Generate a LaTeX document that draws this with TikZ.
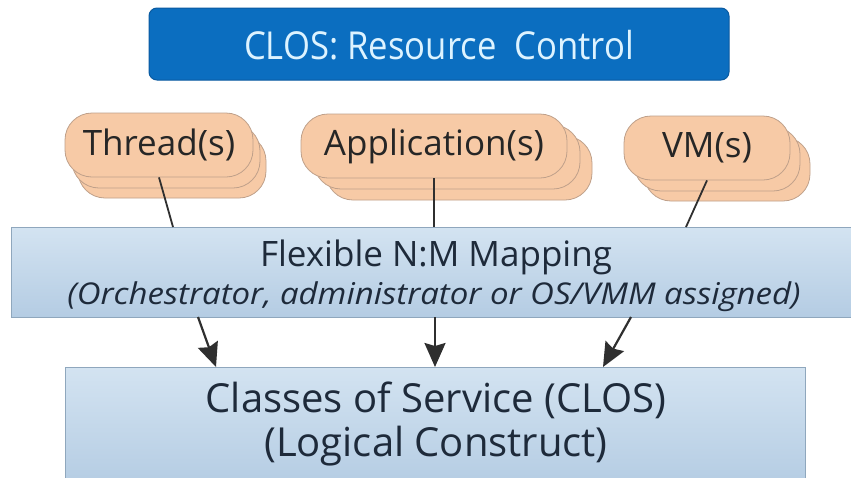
\documentclass[tikz,border=0pt]{standalone}
\usepackage{fontspec}
\setmainfont{Open Sans}
\newfontfamily\narrowsans{Open Sans}[FakeStretch=0.9]
\newfontfamily\widesans{Open Sans}[FakeStretch=1.1]
\usetikzlibrary{arrows.meta,calc}
\definecolor{closblue}{HTML}{0B6EC0}
\definecolor{closedge}{HTML}{0A5AA0}
\definecolor{clostext}{HTML}{DDF3FF}
\definecolor{peach}{HTML}{F7CAA6}
\definecolor{peachedge}{HTML}{BFA08A}
\definecolor{paletop}{HTML}{D3E3F1}
\definecolor{palebot}{HTML}{B4CCE3}
\definecolor{paleedge}{HTML}{8FA7BD}
\definecolor{ink}{HTML}{1E2A3A}
\definecolor{wire}{HTML}{2F2F2F}
\begin{document}
\begin{tikzpicture}[x=1pt,y=-1pt,
  topbox/.style={draw=closedge,fill=closblue,rounded corners=8pt,line width=1pt,
    minimum width=580pt,minimum height=72pt},
  toptext/.style={text=clostext,font=\narrowsans\fontsize{38.5}{44}\selectfont},
  bubble/.style={draw=peachedge,fill=peach,rounded corners=27pt,line width=0.8pt,
    minimum height=64pt,text=black!85,font=\fontsize{35}{40}\selectfont},
  layerbox/.style={draw=paleedge,top color=paletop,bottom color=palebot,line width=0.8pt},
  layertext/.style={text=ink,anchor=base,inner sep=0pt},
  link/.style={draw=wire,line width=1.8pt},
  flow/.style={draw=wire,line width=2.2pt,-{Stealth[length=24pt,width=21pt,inset=3pt]}}]
\useasboundingbox (0,0) rectangle (851,477);
\fill[white] (0,0) rectangle (851,477);

% heading
\node[topbox] (clos) at (439,44) {};
\node[toptext] (clostxt) at (439,45) {CLOS: Resource\ \ Control};

% stacked work items, back layers first
\node[bubble,minimum width=188pt] (thrC) at (172,166) {};
\node[bubble,minimum width=188pt] (thrB) at (166,156) {};
\node[bubble,minimum width=188pt] (thr)  at (159,145) {Thread(s)};
\node[bubble,minimum width=266pt] (appC) at (459,168) {};
\node[bubble,minimum width=266pt] (appB) at (447,157) {};
\node[bubble,minimum width=266pt] (app)  at (434,146) {Application(s)};
\node[bubble,minimum width=166pt] (vmC)  at (727,169) {};
\node[bubble,minimum width=166pt] (vmB)  at (717,159) {};
\node[bubble,minimum width=166pt] (vm)   at (707,148) {VM(s)};

% mapping layer, running off the right edge
\node[layerbox,minimum width=860pt,minimum height=90pt,anchor=north west] (map) at (11,227) {};
\node[layertext,font=\fontsize{35}{40}\selectfont] (maptxt) at (436,266) {Flexible N:M Mapping};
\node[layertext,font=\widesans\itshape\fontsize{30}{34}\selectfont] (mapsub) at (434,304)
  {(Orchestrator, administrator or OS/VMM assigned)};

% logical construct layer, running off the bottom edge
\node[layerbox,minimum width=740pt,minimum height=120pt,anchor=north west] (cls) at (65,367) {};
\node[layertext,font=\fontsize{40}{46}\selectfont] (clstxt) at (436,412) {Classes of Service (CLOS)};
\node[layertext,font=\fontsize{40}{46}\selectfont] (clssub) at (436,456) {(Logical Construct)};

% attachment points on the layer edges
\coordinate (m1) at (173,227);
\coordinate (m2) at (434,227);
\coordinate (m3) at (686,227);
\coordinate (s1) at (198,317);
\coordinate (s2) at (435,317);
\coordinate (s3) at (631,317);
\coordinate (c1) at (216,367);
\coordinate (c2) at (435,367);
\coordinate (c3) at (603,367);

\draw[link] (thr.south) -- (m1);
\draw[link] (app.south) -- (m2);
\draw[link] (vm.south) -- (m3);

\draw[flow] (s1) -- (c1);
\draw[flow] (s2) -- (c2);
\draw[flow] (s3) -- (c3);
\end{tikzpicture}
\end{document}
